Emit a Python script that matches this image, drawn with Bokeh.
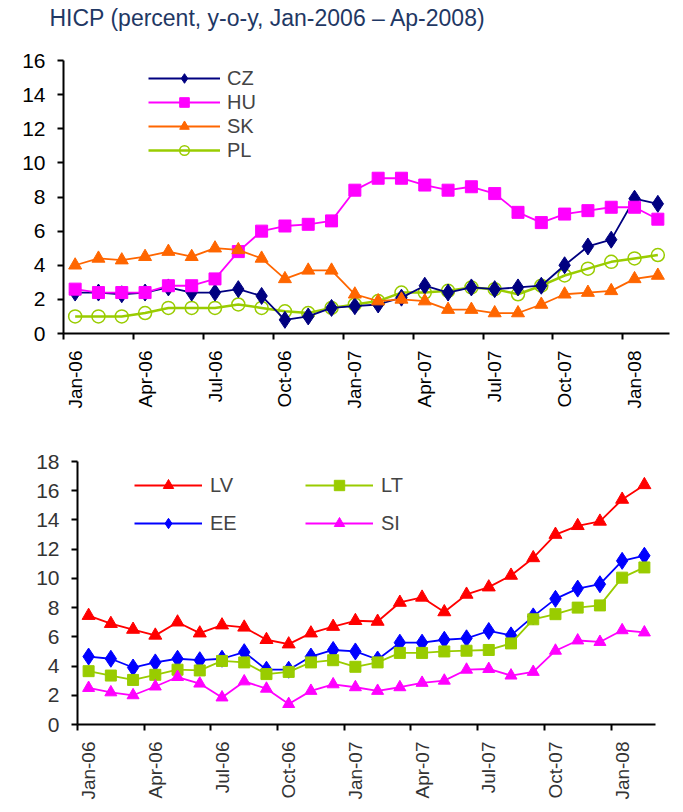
import numpy as np
from bokeh.plotting import figure
from bokeh.models import Range1d, FixedTicker, Legend, LegendItem, Title
from bokeh.embed import file_html
from bokeh.resources import INLINE

# ---------------- data ----------------
months = ["Jan-06", "Feb-06", "Mar-06", "Apr-06", "May-06", "Jun-06", "Jul-06", "Aug-06",
          "Sep-06", "Oct-06", "Nov-06", "Dec-06", "Jan-07", "Feb-07", "Mar-07", "Apr-07",
          "May-07", "Jun-07", "Jul-07", "Aug-07", "Sep-07", "Oct-07", "Nov-07", "Dec-07",
          "Jan-08", "Feb-08"]
tick_labels = ["Jan-06", "Apr-06", "Jul-06", "Oct-06", "Jan-07", "Apr-07", "Jul-07", "Oct-07", "Jan-08"]

cz = [2.4, 2.4, 2.3, 2.4, 2.7, 2.4, 2.4, 2.6, 2.2, 0.8, 1.0, 1.5, 1.6, 1.7, 2.1, 2.8,
      2.4, 2.7, 2.6, 2.7, 2.8, 4.0, 5.1, 5.5, 7.9, 7.6]
hu = [2.6, 2.4, 2.4, 2.4, 2.8, 2.8, 3.2, 4.8, 6.0, 6.3, 6.4, 6.6, 8.4, 9.1, 9.1, 8.7,
      8.4, 8.6, 8.2, 7.1, 6.5, 7.0, 7.2, 7.4, 7.4, 6.7]
sk = [4.0, 4.4, 4.3, 4.5, 4.8, 4.5, 5.0, 4.9, 4.4, 3.2, 3.7, 3.7, 2.3, 1.9, 2.0, 1.9,
      1.4, 1.4, 1.2, 1.2, 1.7, 2.3, 2.4, 2.5, 3.2, 3.4]
pl = [1.0, 1.0, 1.0, 1.2, 1.5, 1.5, 1.5, 1.7, 1.5, 1.3, 1.2, 1.5, 1.7, 1.9, 2.4, 2.4,
      2.5, 2.7, 2.6, 2.3, 2.8, 3.4, 3.8, 4.2, 4.4, 4.6]

lv = [7.45, 6.9, 6.5, 6.1, 7.0, 6.25, 6.8, 6.65, 5.8, 5.5, 6.25, 6.7, 7.1, 7.05, 8.35, 8.7,
      7.7, 8.9, 9.4, 10.2, 11.4, 13.0, 13.6, 13.9, 15.4, 16.4]
ee = [4.65, 4.5, 3.9, 4.25, 4.5, 4.4, 4.5, 4.95, 3.75, 3.75, 4.65, 5.1, 5.0, 4.45, 5.6, 5.6,
      5.8, 5.9, 6.4, 6.1, 7.4, 8.6, 9.3, 9.6, 11.2, 11.55]
lt = [3.65, 3.35, 3.05, 3.4, 3.75, 3.7, 4.35, 4.25, 3.45, 3.6, 4.25, 4.4, 3.95, 4.25, 4.9, 4.9,
      5.0, 5.05, 5.1, 5.55, 7.2, 7.55, 8.0, 8.15, 10.05, 10.75]
si = [2.5, 2.2, 2.0, 2.6, 3.25, 2.8, 1.85, 2.95, 2.45, 1.4, 2.3, 2.75, 2.55, 2.3, 2.55, 2.85,
      3.0, 3.75, 3.8, 3.35, 3.6, 5.05, 5.75, 5.65, 6.45, 6.3]

title_text = "HICP (percent, y-o-y, Jan-2006 \u2013 Ap-2008)"

x = list(range(len(months)))
FONT = "Liberation Sans"


def style_axes(p, ymax, ystep, labels, label_color):
    n = len(months)
    major = list(range(0, n, 3))
    minor = [m - 0.5 for m in major]
    xa = p.xaxis[0]
    xa.ticker = FixedTicker(ticks=major, minor_ticks=minor)
    xa.major_label_overrides = {m: lab for m, lab in zip(major, labels)}
    xa.major_tick_line_color = None
    xa.major_tick_out = 0
    xa.major_tick_in = 0
    xa.minor_tick_line_color = "black"
    xa.minor_tick_line_width = 2
    xa.minor_tick_out = 6
    xa.minor_tick_in = 0
    xa.major_label_orientation = np.pi / 2
    xa.major_label_standoff = 11
    xa.major_label_text_font = FONT
    xa.major_label_text_font_size = "19px"
    xa.major_label_text_color = label_color
    xa.axis_line_width = 2
    xa.axis_line_color = "black"

    ya = p.yaxis[0]
    ya.ticker = FixedTicker(ticks=list(range(0, ymax + 1, ystep)))
    ya.major_tick_line_color = "black"
    ya.major_tick_line_width = 2
    ya.major_tick_out = 6
    ya.major_tick_in = 0
    ya.minor_tick_line_color = None
    ya.major_label_standoff = 12
    ya.major_label_text_font = FONT
    ya.major_label_text_font_size = "21px"
    ya.major_label_text_color = label_color
    ya.axis_line_width = 2
    ya.axis_line_color = "black"

    p.xgrid.grid_line_color = None
    p.ygrid.grid_line_color = None
    p.outline_line_color = None
    p.background_fill_color = "white"
    p.border_fill_color = "white"


# ---------------- top panel ----------------
p1 = figure(width=672, height=428, output_backend="svg", toolbar_location=None, title=None,
            x_range=Range1d(-0.5, len(months) - 0.5), y_range=Range1d(0, 16),
            min_border_left=63, min_border_right=3, min_border_top=60, min_border_bottom=95)
# spacer panel between title and plot area, then the title above it
p1.add_layout(Title(text=" ", text_font=FONT, text_font_size="25px", standoff=0), "above")
p1.add_layout(Title(text=title_text, text_font=FONT, text_font_size="23px",
                    text_font_style="normal", text_color="#1F3864", align="left",
                    offset=-14, standoff=0), "above")
style_axes(p1, 16, 2, tick_labels, "black")

items1 = []
l = p1.line(x, pl, line_color="#99CC00", line_width=2.5)
s = p1.scatter(x, pl, marker="circle", size=13, line_color="#99CC00", line_width=1.5,
               fill_color="white", fill_alpha=0.0)
pl_r = [l, s]
l = p1.line(x, cz, line_color="#000080", line_width=1.8)
s = p1.scatter(x, cz, marker="diamond", size=17, line_color="#000080", fill_color="#000080")
items1.append(LegendItem(label="CZ", renderers=[l, s]))
l = p1.line(x, hu, line_color="#FF00FF", line_width=1.8)
s = p1.scatter(x, hu, marker="square", size=12, line_color="#FF00FF", fill_color="#FF00FF")
items1.append(LegendItem(label="HU", renderers=[l, s]))
l = p1.line(x, sk, line_color="#FF6600", line_width=1.8)
s = p1.scatter(x, sk, marker="triangle", size=13, line_color="#FF6600", fill_color="#FF6600")
items1.append(LegendItem(label="SK", renderers=[l, s]))
items1.append(LegendItem(label="PL", renderers=pl_r))

leg1 = Legend(items=items1, location=(85, 171), orientation="vertical",
              glyph_width=72, glyph_height=24, label_height=24, spacing=0, padding=0,
              margin=0, label_standoff=7, label_text_font=FONT, label_text_font_size="20px",
              border_line_alpha=0, background_fill_alpha=0)
p1.add_layout(leg1, "center")

# ---------------- bottom panel ----------------
p2 = figure(width=672, height=378, output_backend="svg", toolbar_location=None,
            x_range=Range1d(-0.5, len(months) - 0.5), y_range=Range1d(0, 18),
            min_border_left=77, min_border_right=17, min_border_top=33, min_border_bottom=82)
style_axes(p2, 18, 2, tick_labels, "#333333")

items2 = []
l = p2.line(x, lv, line_color="#FF0000", line_width=1.8)
s = p2.scatter(x, lv, marker="triangle", size=13, line_color="#FF0000", fill_color="#FF0000")
items2.append(LegendItem(label="LV", renderers=[l, s]))
l = p2.line(x, ee, line_color="#0000FF", line_width=1.8)
s = p2.scatter(x, ee, marker="diamond", size=17, line_color="#0000FF", fill_color="#0000FF")
items2.append(LegendItem(label="EE", renderers=[l, s]))
l = p2.line(x, lt, line_color="#99CC00", line_width=1.8)
s = p2.scatter(x, lt, marker="square", size=11, line_color="#99CC00", fill_color="#99CC00")
items2.append(LegendItem(label="LT", renderers=[l, s]))
l = p2.line(x, si, line_color="#FF00FF", line_width=1.8)
s = p2.scatter(x, si, marker="triangle", size=12, line_color="#FF00FF", fill_color="#FF00FF")
items2.append(LegendItem(label="SI", renderers=[l, s]))

leg2 = Legend(items=items2, location=(57, 188), orientation="vertical", ncols=2,
              glyph_width=68, glyph_height=26, label_height=26, label_width=83, spacing=12,
              padding=0, margin=0, label_standoff=8, label_text_font=FONT,
              label_text_font_size="20px", border_line_alpha=0, background_fill_alpha=0)
p2.add_layout(leg2, "center")

open("out.html", "w").write(file_html([p1, p2], INLINE))
